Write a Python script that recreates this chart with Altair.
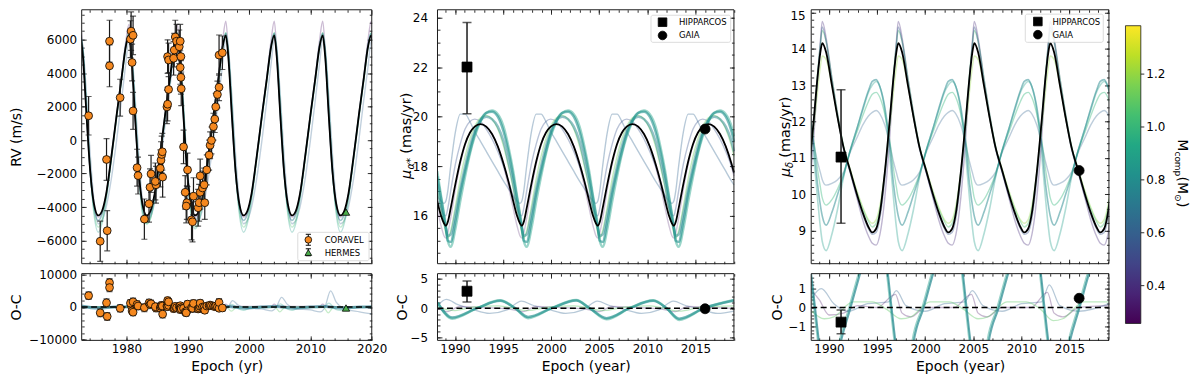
import altair as alt
import pandas as pd

FONT = "DejaVu Sans"
INK = "#1a1a1a"
ORANGE = "#f5881f"
HGREEN = "#4cae4c"
MASS_DOMAIN = [0.257, 1.383]
VIR = alt.Scale(scheme="viridis", domain=MASS_DOMAIN)
VIRIDIS_STOPS = [(0.0, "#440154"), (0.1, "#482475"), (0.2, "#414487"), (0.3, "#355f8d"),
                 (0.4, "#2a788e"), (0.5, "#21918c"), (0.6, "#22a884"), (0.7, "#44bf70"),
                 (0.8, "#7ad151"), (0.9, "#bddf26"), (1.0, "#fde725")]
cb_ticks = [0.4, 0.6, 0.8, 1.0, 1.2]
cb_labels = ["0.4", "0.6", "0.8", "1.0", "1.2"]
LABEL_SIZE = 12

# ---------------- Panel 1 : radial velocities ----------------
rv_year = [1973.83, 1975.72, 1976.75, 1976.86, 1977.24, 1977.24, 1978.97, 1980.76, 1980.65, 1981.08,
           1980.92, 1981.08, 1981.73, 1981.89, 1982.92, 1983.68, 1983.84, 1984.01, 1984.82, 1984.71,
           1985.52, 1985.63, 1985.74, 1985.85, 1985.90, 1986.60, 1986.71, 1986.87, 1986.71, 1986.87,
           1987.69, 1987.79, 1987.96, 1988.17, 1988.61, 1988.77, 1988.88, 1988.77, 1988.88, 1988.93,
           1989.31, 1989.96, 1989.58, 1989.85, 1989.74, 1990.61, 1990.77, 1990.93, 1991.69, 1991.85,
           1992.02, 1992.02, 1992.40, 1992.67, 1992.77, 1993.10, 1993.48, 1993.64, 1993.86, 1994.18,
           1994.40, 1994.56, 1994.83, 1995.10, 1995.10, 1995.64]
rv_val = [1450, -6040, -1160, -5410, 5900, 4430, 2530, 6500, 6020, 6250,
          4630, 1740, -1650, -2120, -4720, -3800, -2820, -2020, -2670, -2470,
          -1690, -1200, -860, -700, -2210, 1980, 2140, 3020, 4980, 4780,
          4880, 5370, 6150, 5900, 5570, 5900, 4980, 4330, 3740, 3060,
          -410, -1780, -3120, -3740, -3940, -4760, -4880, -3350, -4040, -3740,
          -3120, -2140, -2860, -2670, -3740, -1780, -900, -310, -20, 800,
          1250, 1980, 2720, 3150, 5070, 5210]
rv_err = [1150, 1200, 1250, 1200, 1250, 1250, 1100,
          1150, 1100, 1150, 1100, 1100, 1100, 1100,
          1200, 1100, 1100, 1100, 1100, 1100, 1100, 1100, 1100, 1100, 1200,
          1000, 1000, 1000, 1000, 1000, 1000, 1000, 1000, 1000, 1000, 1000, 1000, 1000, 1000, 1000,
          1000, 1000, 1000, 1000, 1000, 1200, 1200, 1100, 1100, 1100, 1000, 1000, 1000, 1000, 1000,
          900, 900, 800, 800, 800, 800, 800, 800, 800, 1200, 1000]
rv_oc = [3500, -1800, 1300, -2900, 7500, 6000, -400, 500, 1200, 1600,
         -1200, -1600, 800, 300, -200, 1300, 800, 1000, -300, 100,
         -300, 200, 500, 300, -2200, 300, 100, 500, 2000, 1600,
         -500, -300, 200, -200, 100, 400, -300, -800, -200, -600,
         -400, 900, -1500, -1200, -1800, -200, -400, 1100, -600, -300,
         200, 1200, 0, -100, -1000, 300, 400, 600, 400, 300,
         100, 300, 0, -400, 1400, -300]
hermes_year = [2015.8]
hermes_val = [-4300]
hermes_oc = [-300]

t1 = [1972.5, 1972.9, 1973.5, 1974.1, 1974.7,
      1975.4, 1976.0, 1976.7, 1977.5, 1978.4, 1979.2, 1979.9, 1980.4, 1980.8, 1981.4, 1982.0, 1982.6,
      1983.3, 1983.9, 1984.6, 1985.4, 1986.3, 1987.1, 1987.8, 1988.3, 1988.7, 1989.3, 1989.9, 1990.5,
      1991.2, 1991.8, 1992.5, 1993.3, 1994.2, 1995.0, 1995.7, 1996.2, 1996.6, 1997.2, 1997.8, 1998.4,
      1999.1, 1999.7, 2000.4, 2001.2, 2002.1, 2002.9, 2003.6, 2004.1, 2004.5, 2005.1, 2005.7, 2006.3,
      2007.0, 2007.6, 2008.3, 2009.1, 2010.0, 2010.8, 2011.5, 2012.0, 2012.4, 2013.0, 2013.6, 2014.2,
      2014.9, 2015.5, 2016.2, 2017.0, 2017.9, 2018.7, 2019.4, 2019.9, 2020.3]
rv_best = [6250, 5000, 1400, -1900, -3800,
           -4500, -4250, -3200, -1100, 1500, 3700, 5600, 6250, 5000, 1400, -1900, -3800,
           -4500, -4250, -3200, -1100, 1500, 3700, 5600, 6250, 5000, 1400, -1900, -3800,
           -4500, -4250, -3200, -1100, 1500, 3700, 5600, 6250, 5000, 1400, -1900, -3800,
           -4500, -4250, -3200, -1100, 1500, 3700, 5600, 6250, 5000, 1400, -1900, -3800,
           -4500, -4250, -3200, -1100, 1500, 3700, 5600, 6250, 5000, 1400, -1900, -3800,
           -4500, -4250, -3200, -1100, 1500, 3700, 5600, 6250, 5000]
rv_c1 = [7000, 5400, 1400, -2000, -3900,
         -4600, -4350, -3250, -1100, 1500, 3800, 5900, 6900, 5400, 1400, -2000, -3900,
         -4600, -4350, -3250, -1100, 1500, 3800, 5900, 6900, 5400, 1400, -2000, -3900,
         -4600, -4350, -3250, -1100, 1500, 3800, 6000, 7100, 5400, 1400, -2000, -3900,
         -4600, -4350, -3250, -1100, 1500, 3800, 6000, 7100, 5400, 1400, -2000, -3900,
         -4600, -4350, -3250, -1100, 1500, 3800, 6000, 7100, 5400, 1400, -2000, -3900,
         -4600, -4350, -3250, -1100, 1500, 3800, 6000, 7100, 5400]
rv_c2 = [6400, 5500, 2200, -1800, -4400,
         -5500, -5000, -3600, -1300, 1300, 3500, 5500, 6400, 5500, 2200, -1800, -4400,
         -5000, -4700, -3500, -1300, 1300, 3500, 5500, 6400, 5500, 2200, -1800, -4400,
         -5300, -4900, -3600, -1300, 1300, 3500, 5500, 6400, 5500, 2200, -1800, -4400,
         -5500, -5000, -3600, -1300, 1300, 3500, 5500, 6400, 5500, 2200, -1800, -4400,
         -5500, -5000, -3600, -1300, 1300, 3500, 5500, 6400, 5500, 2200, -1800, -4400,
         -5500, -5000, -3600, -1300, 1300, 3500, 5500, 6400, 5500]
rv_c3 = [6000, 5500, 2600, -900, -3600,
         -5000, -4800, -4000, -2400, 0, 2400, 4600, 6000, 5500, 2600, -900, -3600,
         -4800, -4600, -3700, -1800, 900, 3200, 5200, 6100, 5300, 2000, -1400, -3700,
         -5000, -4800, -4000, -2400, 0, 2400, 4600, 6000, 5500, 2600, -900, -3600,
         -5000, -4800, -4000, -2400, 0, 2400, 4600, 6000, 5500, 2600, -900, -3600,
         -5000, -4800, -4000, -2400, 0, 2400, 4600, 6000, 5500, 2600, -900, -3600,
         -5000, -4800, -4000, -2400, 0, 2400, 4400, 5900, 5600]
rv_c4 = [6400, 5200, 1700, -1900, -4200,
         -5200, -4800, -3400, -1200, 1400, 3600, 5600, 6400, 5200, 1700, -1900, -4200,
         -5000, -4700, -3400, -1200, 1400, 3600, 5600, 6400, 5200, 1700, -1900, -4200,
         -5200, -4800, -3400, -1200, 1400, 3600, 5600, 6400, 5200, 1700, -1900, -4200,
         -5200, -4800, -3400, -1200, 1400, 3600, 5600, 6400, 5200, 1700, -1900, -4200,
         -5200, -4800, -3400, -1200, 1400, 3600, 5600, 6400, 5200, 1700, -1900, -4200,
         -5200, -4800, -3400, -1200, 1400, 3600, 5600, 6400, 5200]
rv_c5 = [6350, 5100, 1500, -1900, -4000,
         -4800, -4450, -3300, -1100, 1500, 3700, 5700, 6350, 5100, 1500, -1900, -4000,
         -4800, -4450, -3300, -1100, 1500, 3700, 5700, 6350, 5100, 1500, -1900, -4000,
         -4800, -4450, -3300, -1100, 1500, 3700, 5700, 6350, 5100, 1500, -1900, -4000,
         -4800, -4450, -3300, -1100, 1500, 3700, 5700, 6350, 5100, 1500, -1900, -4000,
         -4800, -4450, -3300, -1100, 1500, 3700, 5700, 6350, 5100, 1500, -1900, -4000,
         -4800, -4450, -3300, -1100, 1500, 3700, 5700, 6350, 5100]

oc1_a_t = [1972.5, 1975.4, 1978.0, 1980.8, 1983.3, 1986.0, 1988.7, 1991.2, 1994.0, 1996.6, 1999.1,
           2002.0, 2004.5, 2007.0, 2010.0, 2012.4, 2014.9, 2018.0, 2020.3]
oc1_a_v = [300, -300, 0, 100, -250, 0, 100, -250, 0, 150, -300, 0, 150, -300, 0, 150, -300, 0, 100]
oc1_b_t = [1972.5, 1994.0, 1995.8, 1996.5, 1997.3, 1998.2, 1999.5, 2002.0, 2003.7, 2004.4, 2005.3,
           2006.2, 2007.5, 2010.0, 2011.6, 2012.3, 2013.3, 2014.2, 2015.5, 2018.0, 2020.3]
oc1_b_v = [0, 0, -800, -300, 2000, 600, -300, -600, -1200, -200, 3000, 900, -500, -900, -1500,
           -300, 5000, 1500, -500, -1500, -2200]
oc1_c_t = [1972.5, 1995.7, 1996.2, 1996.7, 2003.6, 2004.1, 2004.6, 2011.5, 2012.0, 2012.5, 2020.3]
oc1_c_v = [0, 200, 900, 200, 200, 900, 200, 200, 900, 200, 0]
oc1_d_t = [1972.5, 1996.3, 1997.1, 1998.0, 2004.2, 2005.0, 2005.9, 2012.1, 2012.9, 2013.8, 2020.3]
oc1_d_v = [0, 0, -1300, 0, 0, -1500, 0, 0, -1800, 0, 0]
oc1_e_t = [1972.5, 1996.4, 1997.2, 1998.3, 1999.1, 2000.2, 2004.3, 2005.1, 2006.2, 2007.0, 2008.1,
           2012.2, 2013.0, 2014.1, 2014.9, 2016.0, 2020.3]
oc1_e_v = [0, 0, 800, -600, -1000, -300, 0, 1000, -600, -1000, -300, 0, 1200, -700, -1000, -300, 0]

# ---------------- Panel 2 : mu_alpha* ----------------
hip_year = [1991.25]
gaia_year = [2016.0]
pma_hip, pma_hip_lo, pma_hip_hi = [22.0], [20.12], [23.8]
pma_gaia = [19.5]
pma_oc_hip, pma_oc_hip_lo, pma_oc_hip_hi = [2.9], [1.05], [4.65]
pma_oc_gaia = [-0.1]

t2 = [1988.15, 1988.55, 1988.85,
      1989.05, 1989.25, 1989.55, 1990.05, 1990.55, 1991.05, 1991.55, 1992.05, 1992.65, 1993.25, 1993.85, 1994.45, 1995.05, 1995.55, 1996.05, 1996.45, 1996.75,
      1996.95, 1997.15, 1997.45, 1997.95, 1998.45, 1998.95, 1999.45, 1999.95, 2000.55, 2001.15, 2001.75, 2002.35, 2002.95, 2003.45, 2003.95, 2004.35, 2004.65,
      2004.85, 2005.05, 2005.35, 2005.85, 2006.35, 2006.85, 2007.35, 2007.85, 2008.45, 2009.05, 2009.65, 2010.25, 2010.85, 2011.35, 2011.85, 2012.25, 2012.55,
      2012.75, 2012.95, 2013.25, 2013.75, 2014.25, 2014.75, 2015.25, 2015.75, 2016.35, 2016.95, 2017.55, 2018.15, 2018.75, 2019.0]
pma_best = [16.6, 16.0, 15.7,
            15.6, 15.75, 16.3, 17.3, 18.2, 18.9, 19.35, 19.6, 19.7, 19.6, 19.3, 18.8, 18.1, 17.4, 16.6, 16.0, 15.7,
            15.6, 15.75, 16.3, 17.3, 18.2, 18.9, 19.35, 19.6, 19.7, 19.6, 19.3, 18.8, 18.1, 17.4, 16.6, 16.0, 15.7,
            15.6, 15.75, 16.3, 17.3, 18.2, 18.9, 19.35, 19.6, 19.7, 19.6, 19.3, 18.8, 18.1, 17.4, 16.6, 16.0, 15.7,
            15.6, 15.75, 16.3, 17.3, 18.2, 18.9, 19.35, 19.6, 19.7, 19.6, 19.3, 18.8, 18.1, 17.75]
pma_teal1 = [17.6, 16.7, 16.0,
             15.5, 15.0, 14.95, 15.8, 16.9, 17.8, 18.6, 19.3, 19.85, 20.15, 20.2, 20.0, 19.4, 18.6, 17.6, 16.7, 16.0,
             15.5, 15.0, 14.95, 15.8, 16.9, 17.8, 18.6, 19.3, 19.85, 20.15, 20.2, 20.0, 19.4, 18.6, 17.6, 16.7, 16.0,
             15.5, 15.0, 14.95, 15.8, 16.9, 17.8, 18.6, 19.3, 19.85, 20.15, 20.2, 20.0, 19.4, 18.6, 17.6, 16.7, 16.0,
             15.5, 15.0, 14.95, 15.8, 16.9, 17.8, 18.6, 19.3, 19.85, 20.15, 20.2, 20.0, 19.4, 19.0]
pma_teal2 = [17.8, 16.8, 16.1,
             15.6, 15.0, 14.75, 15.5, 16.6, 17.6, 18.5, 19.2, 19.8, 20.15, 20.25, 20.1, 19.6, 18.8, 17.8, 16.8, 16.1,
             15.6, 15.0, 14.75, 15.5, 16.6, 17.6, 18.5, 19.2, 19.8, 20.15, 20.25, 20.1, 19.6, 18.8, 17.8, 16.8, 16.1,
             15.6, 15.0, 14.75, 15.5, 16.6, 17.6, 18.5, 19.2, 19.8, 20.15, 20.25, 20.1, 19.6, 18.8, 17.8, 16.8, 16.1,
             15.6, 15.0, 14.75, 15.5, 16.6, 17.6, 18.5, 19.2, 19.8, 20.15, 20.25, 20.1, 19.6, 19.2]
pma_teal3 = [17.3, 16.4, 15.8,
             15.5, 15.2, 15.25, 16.1, 17.1, 18.0, 18.8, 19.4, 19.85, 20.0, 19.9, 19.6, 19.0, 18.2, 17.3, 16.4, 15.8,
             15.5, 15.2, 15.25, 16.1, 17.1, 18.0, 18.8, 19.4, 19.85, 20.0, 19.9, 19.6, 19.0, 18.2, 17.3, 16.4, 15.8,
             15.5, 15.2, 15.25, 16.1, 17.1, 18.0, 18.8, 19.4, 19.85, 20.0, 19.9, 19.6, 19.0, 18.2, 17.3, 16.4, 15.8,
             15.5, 15.2, 15.25, 16.1, 17.1, 18.0, 18.8, 19.4, 19.85, 20.0, 19.9, 19.6, 19.0, 18.6]
pma_lblue = [16.8, 16.6, 16.5,
             16.6, 17.0, 18.0, 19.4, 20.1, 20.1, 19.8, 19.4, 19.0, 18.6, 18.2, 17.8, 17.4, 17.1, 16.8, 16.6, 16.5,
             16.6, 17.0, 18.0, 19.4, 20.1, 20.1, 19.8, 19.4, 19.0, 18.6, 18.2, 17.8, 17.4, 17.1, 16.8, 16.6, 16.5,
             16.6, 17.0, 18.0, 19.4, 20.1, 20.1, 19.8, 19.4, 19.0, 18.6, 18.2, 17.8, 17.4, 17.1, 16.8, 16.6, 16.5,
             16.6, 17.0, 18.0, 19.4, 20.1, 20.1, 19.8, 19.4, 19.0, 18.6, 18.2, 17.8, 17.4, 17.25]
pma_purple = [16.3, 15.6, 15.2,
              15.1, 15.3, 15.9, 17.1, 18.1, 18.85, 19.35, 19.6, 19.7, 19.6, 19.3, 18.8, 18.0, 17.2, 16.3, 15.6, 15.2,
              15.1, 15.3, 15.9, 17.1, 18.1, 18.85, 19.35, 19.6, 19.7, 19.6, 19.3, 18.8, 18.0, 17.2, 16.3, 15.6, 15.2,
              15.1, 15.3, 15.9, 17.1, 18.1, 18.85, 19.35, 19.6, 19.7, 19.6, 19.3, 18.8, 18.0, 17.2, 16.3, 15.6, 15.2,
              15.1, 15.3, 15.9, 17.1, 18.1, 18.85, 19.35, 19.6, 19.7, 19.6, 19.3, 18.8, 18.0, 17.6]
pma_blue = [16.8, 16.3, 16.05,
            16.0, 16.3, 17.0, 18.1, 18.9, 19.5, 19.8, 19.9, 19.8, 19.5, 19.1, 18.6, 18.0, 17.4, 16.8, 16.3, 16.05,
            16.0, 16.3, 17.0, 18.1, 18.9, 19.5, 19.8, 19.9, 19.8, 19.5, 19.1, 18.6, 18.0, 17.4, 16.8, 16.3, 16.05,
            16.0, 16.3, 17.0, 18.1, 18.9, 19.5, 19.8, 19.9, 19.8, 19.5, 19.1, 18.6, 18.0, 17.4, 16.8, 16.3, 16.05,
            16.0, 16.3, 17.0, 18.1, 18.9, 19.5, 19.8, 19.9, 19.8, 19.5, 19.1, 18.6, 18.0, 17.7]
pma_green = [17.1, 16.3, 15.7,
             15.3, 15.1, 15.4, 16.4, 17.5, 18.4, 19.1, 19.6, 19.95, 20.05, 19.9, 19.5, 18.8, 18.0, 17.1, 16.3, 15.7,
             15.3, 15.1, 15.4, 16.4, 17.5, 18.4, 19.1, 19.6, 19.95, 20.05, 19.9, 19.5, 18.8, 18.0, 17.1, 16.3, 15.7,
             15.3, 15.1, 15.4, 16.4, 17.5, 18.4, 19.1, 19.6, 19.95, 20.05, 19.9, 19.5, 18.8, 18.0, 17.1, 16.3, 15.7,
             15.3, 15.1, 15.4, 16.4, 17.5, 18.4, 19.1, 19.6, 19.95, 20.05, 19.9, 19.5, 18.8, 18.4]

oc2_teal_t = [1988.2, 1989.7, 1992.3, 1994.7, 1996.25, 1997.6, 2000.05, 2002.6, 2004.0, 2005.75,
              2008.15, 2010.6, 2012.0, 2013.3, 2015.9, 2019.0]
oc2_teal1_v = [0.9, -1.6, 0.0, 1.25, 0.0, -1.5, 0.0, 1.3, 0.0, -1.7, 0.0, 1.25, 0.0, -1.8, 0.0, 1.3]
oc2_teal2_v = [1.0, -1.8, 0.0, 1.35, 0.0, -1.7, 0.0, 1.4, 0.0, -1.9, 0.0, 1.35, 0.0, -2.0, 0.0, 1.4]
oc2_lblue_t = [1988.2, 1989.1, 1990.3, 1991.8, 1993.6, 1995.4, 1996.9, 1998.1, 1999.7, 2001.5, 2003.3,
               2004.8, 2006.0, 2007.6, 2009.4, 2011.2, 2012.7, 2013.9, 2015.5, 2017.3, 2019.0]
oc2_lblue_v = [0.5, 1.5, 0.6, -0.2, -0.9, -0.3, 1.2, 0.5, -0.2, -0.9, -0.3, 1.2, 0.5, -0.2, -0.9,
               -0.3, 1.2, 0.5, -0.2, -0.9, -0.5]
oc2_purple_t = [1988.2, 1989.2, 1990.5, 1993.0, 1995.5, 1997.1, 1998.4, 2001.0, 2003.4, 2005.0,
                2006.3, 2009.0, 2011.3, 2012.9, 2014.2, 2017.0, 2019.0]
oc2_purple_v = [0.0, -0.6, 0.3, 0.1, -0.1, -0.6, 0.3, 0.1, -0.1, -0.6, 0.3, 0.1, -0.1, -0.6, 0.3, 0.1, 0.0]
oc2_green_t = [1988.2, 1990.0, 1992.0, 1994.5, 1997.5, 1999.9, 2002.4, 2005.4, 2007.8, 2010.3,
               2013.3, 2015.7, 2019.0]
oc2_green_v = [0.2, -0.4, 0.2, 0.4, -0.4, 0.2, 0.4, -0.4, 0.2, 0.4, -0.5, 0.2, 0.4]

# ---------------- Panel 3 : mu_delta ----------------
pmd_hip, pmd_hip_lo, pmd_hip_hi = [11.02], [9.2], [12.87]
pmd_gaia = [10.65]
pmd_oc_hip, pmd_oc_hip_lo, pmd_oc_hip_hi = [-0.78], [-1.4], [-0.13]
pmd_oc_gaia = [0.49]

t3 = [1987.9, 1988.4, 1988.8, 1989.1,
      1989.3, 1989.7, 1990.3, 1990.9, 1991.5, 1992.2, 1992.9, 1993.5, 1994.1, 1994.5, 1994.9, 1995.3, 1995.8, 1996.3, 1996.7, 1997.0,
      1997.2, 1997.6, 1998.2, 1998.8, 1999.4, 2000.1, 2000.8, 2001.4, 2002.0, 2002.4, 2002.8, 2003.2, 2003.7, 2004.2, 2004.6, 2004.9,
      2005.1, 2005.5, 2006.1, 2006.7, 2007.3, 2008.0, 2008.7, 2009.3, 2009.9, 2010.3, 2010.7, 2011.1, 2011.6, 2012.1, 2012.5, 2012.8,
      2013.0, 2013.4, 2014.0, 2014.6, 2015.2, 2015.9, 2016.6, 2017.2, 2017.8, 2018.2, 2018.6, 2019.0, 2019.5]
pmd_best = [10.6, 12.0, 13.2, 13.9,
            14.15, 13.9, 13.0, 12.1, 11.3, 10.65, 10.0, 9.5, 9.1, 8.95, 9.05, 9.5, 10.6, 12.0, 13.2, 13.9,
            14.15, 13.9, 13.0, 12.1, 11.3, 10.65, 10.0, 9.5, 9.1, 8.95, 9.05, 9.5, 10.6, 12.0, 13.2, 13.9,
            14.15, 13.9, 13.0, 12.1, 11.3, 10.65, 10.0, 9.5, 9.1, 8.95, 9.05, 9.5, 10.6, 12.0, 13.2, 13.9,
            14.15, 13.9, 13.0, 12.1, 11.3, 10.65, 10.0, 9.5, 9.1, 8.95, 9.05, 9.5, 10.6]
pmd_v1 = [9.9, 11.5, 13.1, 14.2,
          14.75, 14.3, 13.2, 12.2, 11.3, 10.6, 9.9, 9.3, 8.85, 8.65, 8.6, 8.9, 9.9, 11.5, 13.1, 14.2,
          14.75, 14.3, 13.2, 12.2, 11.3, 10.6, 9.9, 9.3, 8.85, 8.65, 8.6, 8.9, 9.9, 11.5, 13.1, 14.2,
          14.75, 14.3, 13.2, 12.2, 11.3, 10.6, 9.9, 9.3, 8.85, 8.65, 8.6, 8.9, 9.9, 11.5, 13.1, 14.2,
          14.75, 14.3, 13.2, 12.2, 11.3, 10.6, 9.9, 9.3, 8.85, 8.65, 8.6, 8.9, 9.9]
pmd_v2 = [10.6, 12.0, 13.3, 14.1,
          14.5, 14.2, 13.2, 12.2, 11.35, 10.65, 10.05, 9.6, 9.25, 9.1, 9.2, 9.6, 10.6, 12.0, 13.3, 14.1,
          14.5, 14.2, 13.2, 12.2, 11.35, 10.65, 10.05, 9.6, 9.25, 9.1, 9.2, 9.6, 10.6, 12.0, 13.3, 14.1,
          14.5, 14.2, 13.2, 12.2, 11.35, 10.65, 10.05, 9.6, 9.25, 9.1, 9.2, 9.6, 10.6, 12.0, 13.3, 14.1,
          14.5, 14.2, 13.2, 12.2, 11.35, 10.65, 10.05, 9.6, 9.25, 9.1, 9.2, 9.6, 10.6]
pmd_v3 = [10.6, 11.8, 12.8, 13.5,
          13.8, 13.7, 13.0, 12.1, 11.3, 10.7, 10.1, 9.65, 9.3, 9.2, 9.3, 9.7, 10.6, 11.8, 12.8, 13.5,
          13.8, 13.7, 13.0, 12.1, 11.3, 10.7, 10.1, 9.65, 9.3, 9.2, 9.3, 9.7, 10.6, 11.8, 12.8, 13.5,
          13.8, 13.7, 13.0, 12.1, 11.3, 10.7, 10.1, 9.65, 9.3, 9.2, 9.3, 9.7, 10.6, 11.8, 12.8, 13.5,
          13.8, 13.7, 13.0, 12.1, 11.3, 10.7, 10.1, 9.65, 9.3, 9.2, 9.3, 9.7, 10.6]
pmd_v4 = [10.4, 11.9, 13.2, 14.1,
          14.6, 14.2, 13.1, 12.1, 11.25, 10.6, 9.95, 9.45, 9.05, 8.9, 8.95, 9.35, 10.4, 11.9, 13.2, 14.1,
          14.6, 14.2, 13.1, 12.1, 11.25, 10.6, 9.95, 9.45, 9.05, 8.9, 8.95, 9.35, 10.4, 11.9, 13.2, 14.1,
          14.6, 14.2, 13.1, 12.1, 11.25, 10.6, 9.95, 9.45, 9.05, 8.9, 8.95, 9.35, 10.4, 11.9, 13.2, 14.1,
          14.6, 14.2, 13.1, 12.1, 11.25, 10.6, 9.95, 9.45, 9.05, 8.9, 8.95, 9.35, 10.4]
pmd_a1 = [12.3, 11.1, 9.9, 9.1,
          8.7, 8.45, 8.9, 9.6, 10.45, 11.2, 11.8, 12.3, 12.8, 13.0, 13.1, 12.95, 12.3, 11.1, 9.9, 9.1,
          8.7, 8.45, 8.9, 9.6, 10.45, 11.2, 11.8, 12.3, 12.8, 13.0, 13.1, 12.95, 12.3, 11.1, 9.9, 9.1,
          8.7, 8.45, 8.9, 9.6, 10.45, 11.2, 11.8, 12.3, 12.8, 13.0, 13.1, 12.95, 12.3, 11.1, 9.9, 9.1,
          8.7, 8.45, 8.9, 9.6, 10.45, 11.2, 11.8, 12.3, 12.8, 13.0, 13.1, 12.95, 12.3]
pmd_a2 = [12.4, 11.4, 10.3, 9.7,
          9.4, 9.15, 9.5, 10.0, 10.5, 11.2, 11.8, 12.35, 12.85, 13.1, 13.15, 12.95, 12.4, 11.4, 10.3, 9.7,
          9.4, 9.15, 9.5, 10.0, 10.5, 11.2, 11.8, 12.35, 12.85, 13.1, 13.15, 12.95, 12.4, 11.4, 10.3, 9.7,
          9.4, 9.15, 9.5, 10.0, 10.5, 11.2, 11.8, 12.35, 12.85, 13.1, 13.15, 12.95, 12.4, 11.4, 10.3, 9.7,
          9.4, 9.15, 9.5, 10.0, 10.5, 11.2, 11.8, 12.35, 12.85, 13.1, 13.15, 12.95, 12.4]
pmd_a3 = [12.2, 11.5, 10.7, 10.2,
          9.9, 9.7, 9.85, 10.15, 10.55, 11.2, 11.7, 12.15, 12.55, 12.75, 12.8, 12.65, 12.2, 11.5, 10.7, 10.2,
          9.9, 9.7, 9.85, 10.15, 10.55, 11.2, 11.7, 12.15, 12.55, 12.75, 12.8, 12.65, 12.2, 11.5, 10.7, 10.2,
          9.9, 9.7, 9.85, 10.15, 10.55, 11.2, 11.7, 12.15, 12.55, 12.75, 12.8, 12.65, 12.2, 11.5, 10.7, 10.2,
          9.9, 9.7, 9.85, 10.15, 10.55, 11.2, 11.7, 12.15, 12.55, 12.75, 12.8, 12.65, 12.2]
pmd_a4 = [11.9, 11.4, 10.9, 10.6,
          10.4, 10.25, 10.3, 10.4, 10.6, 11.15, 11.55, 11.9, 12.15, 12.25, 12.3, 12.2, 11.9, 11.4, 10.9, 10.6,
          10.4, 10.25, 10.3, 10.4, 10.6, 11.15, 11.55, 11.9, 12.15, 12.25, 12.3, 12.2, 11.9, 11.4, 10.9, 10.6,
          10.4, 10.25, 10.3, 10.4, 10.6, 11.15, 11.55, 11.9, 12.15, 12.25, 12.3, 12.2, 11.9, 11.4, 10.9, 10.6,
          10.4, 10.25, 10.3, 10.4, 10.6, 11.15, 11.55, 11.9, 12.15, 12.25, 12.3, 12.2, 11.9]

oc3_alt1_t = [1987.95, 1988.45, 1988.95, 1990.0, 1991.0, 1992.1, 1993.2, 1994.5, 1995.9, 1996.4, 1996.9,
              1998.0, 1998.6, 1999.7, 2000.8, 2002.3, 2003.7, 2004.2, 2004.7, 2005.8, 2006.4, 2007.5,
              2008.6, 2010.2, 2011.8, 2012.3, 2012.8, 2013.8, 2014.8, 2015.9, 2017.0, 2018.5, 2019.5]
oc3_alt_v = [2.2, 0.0, -2.2, -5.0, -2.0, 0.0, 2.0, 4.0, 2.2, 0.0, -2.2, -5.0, -2.0, 0.0, 2.0, 4.0,
             2.2, 0.0, -2.2, -5.0, -2.0, 0.0, 2.0, 4.0, 2.2, 0.0, -2.2, -5.0, -2.0, 0.0, 2.0, 4.0, 3.0]
oc3_alt2_t = [1988.05, 1988.55, 1989.05, 1990.1, 1991.15, 1992.25, 1993.35, 1994.6, 1996.0, 1996.5, 1997.0,
              1998.1, 1998.75, 1999.85, 2000.95, 2002.4, 2003.8, 2004.3, 2004.8, 2005.9, 2006.55, 2007.65,
              2008.75, 2010.3, 2011.9, 2012.4, 2012.9, 2013.9, 2014.95, 2016.05, 2017.15, 2018.6, 2019.5]
oc3_w1_t = [1988.2, 1989.0, 1990.0, 1991.5, 1993.0, 1995.0, 1996.9, 1997.6, 1998.5, 2000.0, 2003.0,
            2004.8, 2005.5, 2006.4, 2008.0, 2011.0, 2012.7, 2013.4, 2014.3, 2016.0, 2019.1]
oc3_w1_v = [0.9, 0.4, -0.4, -0.3, 0.1, 0.0, 0.7, -0.3, -0.5, 0.0, 0.0, 0.7, -0.3, -0.5, 0.0, 0.0,
            0.8, -0.3, -0.5, 0.0, 0.1]
oc3_w2_t = [1988.2, 1989.5, 1990.5, 1992.5, 1994.5, 1996.0, 1997.5, 1998.5, 2000.5, 2002.5, 2004.0,
            2005.5, 2006.5, 2008.5, 2010.5, 2012.0, 2013.3, 2014.3, 2016.5, 2019.1]
oc3_w2_v = [-0.2, -0.6, -0.5, 0.3, 0.3, -0.1, -0.6, -0.5, 0.3, 0.3, -0.1, -0.6, -0.5, 0.3, 0.3,
            -0.1, -0.7, -0.6, 0.3, 0.3]
oc3_w3_t = [1988.2, 1989.2, 1990.5, 1992.0, 1994.0, 1996.2, 1997.0, 1998.0, 2000.0, 2002.0, 2004.1,
            2004.9, 2006.0, 2008.0, 2010.0, 2012.1, 2012.9, 2014.0, 2016.0, 2019.1]
oc3_w3_v = [0.5, 1.0, 0.2, -0.2, 0.2, 0.3, 0.9, 0.1, -0.2, 0.2, 0.3, 0.9, 0.1, -0.2, 0.2, 0.3, 1.2,
            0.1, -0.2, 0.2]

# ---------------- layout constants ----------------
H_MAIN, H_OC, GAP = 255, 67, 10
W1, W2, W3 = 291.3, 297.7, 299.0
GAP_A, GAP_B = 65.3, 76.7
W2V = W2 + (GAP_B - GAP_A)
CB_X0, CB_W = 16.6, 15.4
X1 = [1972.7, 2020.0]
X2 = [1988.18, 2019.0]
X3 = [1988.15, 2019.1]


def curves_df(t, curves):
    rows = []
    for name, (mass, op, w, vals) in curves.items():
        assert len(vals) == len(t), (name, len(vals), len(t))
        for ti, vi in zip(t, vals):
            rows.append(dict(t=ti, v=vi, c=name, m=mass, o=op, w=w))
    return pd.DataFrame(rows)


def curves_df2(curves):
    rows = []
    for name, (mass, op, w, t, vals) in curves.items():
        assert len(vals) == len(t), (name, len(vals), len(t))
        for ti, vi in zip(t, vals):
            rows.append(dict(t=ti, v=vi, c=name, m=mass, o=op, w=w))
    return pd.DataFrame(rows)


def sc(dom, width=None):
    if width is None:
        return alt.Scale(domain=dom, nice=False, zero=False)
    return alt.Scale(domain=dom, nice=False, zero=False, range=[0, width])


def frame_axes(xs, ys, W, WV, H, xmaj, xmin, ymaj, ymin, xlabels, xtitle, ytitle, yfmt,
               ylabpad, ytitlex=None, ylabvals=None):
    d = pd.DataFrame({"x": [xs.domain[0]], "y": [ys.domain[0]]})
    base = alt.Chart(d).mark_point(opacity=0)

    def inner(orient, values, size, offset):
        return alt.Axis(orient=orient, values=values, tickSize=size, offset=offset, labels=False,
                        domain=False, grid=False, title=None, ticks=True, tickColor=INK,
                        tickWidth=0.9)

    xkw = dict(orient="bottom", values=xmaj, labels=xlabels, ticks=False, domain=False,
               grid=False, format="d", labelPadding=3, title=xtitle, titlePadding=5,
               labelOverlap=False, labelFlush=False, labelBound=False)
    ykw = dict(orient="left", values=ylabvals if ylabvals is not None else ymaj, ticks=False,
               domain=False, grid=False, format=yfmt, labelPadding=ylabpad, title=ytitle,
               labelOverlap=False, labelFlush=False, labelBound=False)
    if ytitle is not None and ytitlex is not None:
        ykw.update(titleX=ytitlex, titleBaseline="middle", titleAngle=270)
    layers = [base.encode(x=alt.X("x:Q", scale=xs, axis=alt.Axis(**xkw)),
                          y=alt.Y("y:Q", scale=ys, axis=alt.Axis(**ykw)))]
    for (vals_x, vals_y, size) in [(xmaj, ymaj, 4.5), (xmin, ymin, 2.5)]:
        layers.append(base.encode(x=alt.X("x:Q", scale=xs, axis=inner("top", vals_x, size, -H)),
                                  y=alt.Y("y:Q", scale=ys, axis=inner("right", vals_y, size, -WV))))
        layers.append(base.encode(x=alt.X("x:Q", scale=xs, axis=inner("bottom", vals_x, size, -H)),
                                  y=alt.Y("y:Q", scale=ys, axis=inner("left", vals_y, size, -W))))
    return layers


ONE = pd.DataFrame({"a": [0]})


def frame_rect(W, H):
    return alt.Chart(ONE).mark_rect(fill="white", fillOpacity=0, stroke=INK, strokeWidth=1).encode(
        x=alt.value(0), x2=alt.value(W), y=alt.value(0), y2=alt.value(H))


def curve_layer(df, xs, ys):
    return alt.Chart(df).mark_line(interpolate="monotone", clip=True).encode(
        x=alt.X("t:Q", scale=xs, axis=None),
        y=alt.Y("v:Q", scale=ys, axis=None),
        detail="c:N",
        color=alt.Color("m:Q", scale=VIR, legend=None),
        opacity=alt.Opacity("o:Q", scale=None),
        strokeWidth=alt.StrokeWidth("w:Q", scale=None),
    )


def best_layer(t, v, xs, ys, width=1.8):
    df = pd.DataFrame({"t": t, "v": v})
    return alt.Chart(df).mark_line(interpolate="monotone", clip=True, color="black",
                                   strokeWidth=width).encode(
        x=alt.X("t:Q", scale=xs, axis=None), y=alt.Y("v:Q", scale=ys, axis=None))


def zero_layer(ys, W):
    df = pd.DataFrame({"y": [0.0]})
    return alt.Chart(df).mark_rule(color="black", strokeWidth=1.6, strokeDash=[6, 3.5]).encode(
        y=alt.Y("y:Q", scale=ys, axis=None), x=alt.value(0), x2=alt.value(W))


def errbar_layers(t, lo, hi, xs, ys, cap=6, width=1.2):
    df = pd.DataFrame({"t": t, "lo": lo, "hi": hi})
    caps = pd.DataFrame({"t": list(t) + list(t), "y": list(lo) + list(hi)})
    stem = alt.Chart(df).mark_rule(color=INK, strokeWidth=width, clip=True).encode(
        x=alt.X("t:Q", scale=xs, axis=None),
        y=alt.Y("lo:Q", scale=ys, axis=None), y2="hi:Q")
    tick = alt.Chart(caps).mark_tick(color=INK, orient="horizontal", size=cap, thickness=width,
                                     clip=True).encode(
        x=alt.X("t:Q", scale=xs, axis=None), y=alt.Y("y:Q", scale=ys, axis=None))
    return [stem, tick]


def point_layer(t, v, xs, ys, shape, fill, size, stroke="black", sw=0.8):
    df = pd.DataFrame({"t": t, "v": v})
    return alt.Chart(df).mark_point(shape=shape, filled=True, color=fill, stroke=stroke,
                                    strokeWidth=sw, size=size, opacity=1, clip=True).encode(
        x=alt.X("t:Q", scale=xs, axis=None), y=alt.Y("v:Q", scale=ys, axis=None))


def txt(text, x, y, size, angle=0, align="left", baseline="middle", style="normal"):
    return alt.Chart(ONE).mark_text(text=text, align=align, baseline=baseline, angle=angle,
                                    font=FONT, fontSize=size, fontStyle=style, color="black").encode(
        x=alt.value(x), y=alt.value(y))


def box(x0, y0, x1, y1):
    return alt.Chart(ONE).mark_rect(fill="white", stroke="#cccccc", strokeWidth=0.8,
                                    cornerRadius=2, opacity=0.85).encode(
        x=alt.value(x0), x2=alt.value(x1), y=alt.value(y0), y2=alt.value(y1))


def sym(x, y, shape, fill, size):
    return alt.Chart(ONE).mark_point(shape=shape, filled=True, color=fill, stroke="black",
                                     strokeWidth=0.8, size=size, opacity=1).encode(
        x=alt.value(x), y=alt.value(y))


def vseg(x, y0, y1, w=1.1):
    return alt.Chart(ONE).mark_rule(color=INK, strokeWidth=w).encode(
        x=alt.value(x), y=alt.value(y0), y2=alt.value(y1))


def hseg(x0, x1, y, w=1.1):
    return alt.Chart(ONE).mark_rule(color=INK, strokeWidth=w).encode(
        x=alt.value(x0), x2=alt.value(x1), y=alt.value(y))


def panel(layers, WV, H, indep_y=False):
    ch = alt.layer(*layers).resolve_axis(x="independent", y="independent")
    if indep_y:
        ch = ch.resolve_scale(y="independent")
    return ch.properties(width=WV, height=H)


# ================= Panel 1 =================
xs1 = sc(X1)
ys1 = sc([-7380, 7776])
ys1oc = sc([-10300, 10300])
rv_curves = curves_df(t1, {
    "c3": (0.62, 0.30, 1.4, rv_c3),
    "c1": (0.30, 0.28, 1.4, rv_c1),
    "c2": (0.88, 0.30, 1.4, rv_c2),
    "c4": (1.05, 0.32, 1.4, rv_c4),
    "c5": (0.72, 0.45, 1.6, rv_c5),
})
rv_lo = [v - e for v, e in zip(rv_val, rv_err)]
rv_hi = [v + e for v, e in zip(rv_val, rv_err)]
xmaj1 = [1980, 1990, 2000, 2010, 2020]
xmin1 = [1974 + 2 * i for i in range(23)]
main1 = panel(
    [curve_layer(rv_curves, xs1, ys1), best_layer(t1, rv_best, xs1, ys1)]
    + errbar_layers(rv_year, rv_lo, rv_hi, xs1, ys1)
    + [point_layer(rv_year, rv_val, xs1, ys1, "circle", ORANGE, 62),
       point_layer(hermes_year, hermes_val, xs1, ys1, "triangle-up", HGREEN, 55),
       box(217, 223.5, 288.6, 252),
       vseg(227.6, 225.5, 236.5), hseg(225, 230.2, 225.5), hseg(225, 230.2, 236.5),
       sym(227.6, 231, "circle", ORANGE, 45),
       vseg(227.6, 240, 247), hseg(225, 230.2, 240), hseg(225, 230.2, 247),
       sym(227.6, 243.8, "triangle-up", HGREEN, 45),
       txt("CORAVEL", 244, 231, 8.5), txt("HERMES", 244, 243.8, 8.5),
       frame_rect(W1, H_MAIN)]
    + frame_axes(xs1, ys1, W1, W1, H_MAIN, xmaj1, xmin1,
                 [-6000, -4000, -2000, 0, 2000, 4000, 6000],
                 [-7000 + 500 * i for i in range(30)], False, None, "RV (m/s)", "d", 5, -65.7),
    W1, H_MAIN)

oc1_curves = curves_df2({
    "b": (0.62, 0.32, 1.3, oc1_b_t, oc1_b_v),
    "c": (0.30, 0.30, 1.3, oc1_c_t, oc1_c_v),
    "e": (0.90, 0.30, 1.3, oc1_e_t, oc1_e_v),
    "d": (1.10, 0.35, 1.3, oc1_d_t, oc1_d_v),
    "a": (0.72, 0.65, 3.0, oc1_a_t, oc1_a_v),
})
oc_lo = [v - e for v, e in zip(rv_oc, rv_err)]
oc_hi = [v + e for v, e in zip(rv_oc, rv_err)]
oc1 = panel(
    [curve_layer(oc1_curves, xs1, ys1oc), zero_layer(ys1oc, W1)]
    + errbar_layers(rv_year, oc_lo, oc_hi, xs1, ys1oc)
    + [point_layer(rv_year, rv_oc, xs1, ys1oc, "circle", ORANGE, 62),
       point_layer(hermes_year, hermes_oc, xs1, ys1oc, "triangle-up", HGREEN, 55),
       frame_rect(W1, H_OC)]
    + frame_axes(xs1, ys1oc, W1, W1, H_OC, xmaj1, xmin1, [-10000, 0, 10000],
                 [-10000 + 2000 * i for i in range(11)], True, "Epoch (yr)", "O-C", "d", 5, -65.7),
    W1, H_OC)

# ================= Panel 2 =================
xs2 = sc(X2, W2)
ys2 = sc([14.07, 24.31])
ys2oc = sc([-5.5, 5.9])
pma_curves = curves_df(t2, {
    "lblue": (0.62, 0.35, 1.4, pma_lblue),
    "purple": (0.32, 0.25, 1.4, pma_purple),
    "blue": (0.55, 0.35, 1.4, pma_blue),
    "green": (1.12, 0.40, 1.4, pma_green),
    "teal3": (0.76, 0.50, 2.5, pma_teal3),
    "teal2": (0.90, 0.45, 2.5, pma_teal2),
    "teal1": (0.82, 0.60, 2.5, pma_teal1),
})
xmaj23 = [1990, 1995, 2000, 2005, 2010, 2015]
xmin23 = [1989 + i for i in range(31)]
main2 = panel(
    [curve_layer(pma_curves, xs2, ys2), best_layer(t2, pma_best, xs2, ys2)]
    + errbar_layers(hip_year, pma_hip_lo, pma_hip_hi, xs2, ys2, cap=9, width=1.5)
    + [point_layer(hip_year, pma_hip, xs2, ys2, "square", "black", 100),
       point_layer(gaia_year, pma_gaia, xs2, ys2, "circle", "black", 100),
       box(214.4, 5.5, 294.4, 32.7),
       sym(226, 12.5, "square", "black", 75), sym(226, 25.8, "circle", "black", 75),
       txt("HIPPARCOS", 242.5, 12.5, 8.5), txt("GAIA", 242.5, 25.8, 8.5),
       txt("μ", -27, 170.0, 14.5, angle=270, baseline="alphabetic", style="italic"),
       txt("α*", -24, 160.5, 10, angle=270, baseline="alphabetic", style="italic"),
       txt("(mas/yr)", -27, 144.5, 14.5, angle=270, baseline="alphabetic"),
       frame_rect(W2, H_MAIN)]
    + frame_axes(xs2, ys2, W2, W2V, H_MAIN, xmaj23, xmin23, [16, 18, 20, 22, 24],
                 [14.5 + 0.5 * i for i in range(20)], False, None, None, "d", 10),
    W2V, H_MAIN)

oc2_curves = curves_df2({
    "lblue": (0.62, 0.35, 1.3, oc2_lblue_t, oc2_lblue_v),
    "purple": (0.35, 0.30, 1.3, oc2_purple_t, oc2_purple_v),
    "green": (1.10, 0.40, 1.3, oc2_green_t, oc2_green_v),
    "teal2": (0.90, 0.45, 2.5, oc2_teal_t, oc2_teal2_v),
    "teal1": (0.82, 0.65, 2.5, oc2_teal_t, oc2_teal1_v),
})
oc2 = panel(
    [curve_layer(oc2_curves, xs2, ys2oc), zero_layer(ys2oc, W2)]
    + errbar_layers(hip_year, pma_oc_hip_lo, pma_oc_hip_hi, xs2, ys2oc, cap=9, width=1.5)
    + [point_layer(hip_year, pma_oc_hip, xs2, ys2oc, "square", "black", 100),
       point_layer(gaia_year, pma_oc_gaia, xs2, ys2oc, "circle", "black", 100),
       frame_rect(W2, H_OC)]
    + frame_axes(xs2, ys2oc, W2, W2V, H_OC, xmaj23, xmin23, [-5, 0, 5],
                 [-5 + i for i in range(11)], True, "Epoch (year)", "O-C", "d", 10, -35),
    W2V, H_OC)

# ================= Panel 3 (with colour bar) =================
xs3 = sc(X3)
ys3 = sc([8.09, 15.07])
ys3oc = sc([-1.75, 1.8])
cbs = sc([0.483, 1.4433])          # colour-bar scale: 1.383 -> 16 px, 0.257 -> 315 px
pmd_curves = curves_df(t3, {
    "a4": (0.62, 0.32, 1.4, pmd_a4),
    "a3": (1.00, 0.40, 1.4, pmd_a3),
    "a1": (0.88, 0.35, 1.6, pmd_a1),
    "a2": (0.78, 0.50, 1.6, pmd_a2),
    "v1": (0.40, 0.35, 1.4, pmd_v1),
    "v3": (1.20, 0.35, 1.4, pmd_v3),
    "v2": (1.05, 0.40, 1.4, pmd_v2),
    "v4": (0.55, 0.40, 1.4, pmd_v4),
})
grad = alt.LinearGradient(gradient="linear",
                          stops=[alt.GradientStop(color=c, offset=o) for o, c in VIRIDIS_STOPS],
                          x1=0, x2=0, y1=1, y2=0)
cb_df = pd.DataFrame({"lo": [MASS_DOMAIN[0]], "hi": [MASS_DOMAIN[1]]})
cb_tick_df = pd.DataFrame({"v": cb_ticks, "lab": cb_labels})
cbx0 = W3 + CB_X0
cbx1 = cbx0 + CB_W
cb_layers = [
    alt.Chart(cb_df).mark_rect(fill=grad, stroke=INK, strokeWidth=0.8).encode(
        y=alt.Y("hi:Q", scale=cbs, axis=None), y2="lo:Q",
        x=alt.value(cbx0), x2=alt.value(cbx1)),
    alt.Chart(cb_tick_df).mark_rule(color=INK, strokeWidth=0.9).encode(
        y=alt.Y("v:Q", scale=cbs, axis=None), x=alt.value(cbx1), x2=alt.value(cbx1 + 3.5)),
    alt.Chart(cb_tick_df).mark_text(align="left", baseline="middle", font=FONT,
                                    fontSize=LABEL_SIZE, color="black").encode(
        y=alt.Y("v:Q", scale=cbs, axis=None), x=alt.value(cbx1 + 5.5), text="lab:N"),
    txt("M", cbx0 + 52.7, 130, 14, angle=90, baseline="alphabetic"),
    txt("comp", cbx0 + 49.5, 142.3, 9, angle=90, baseline="alphabetic"),
    txt("(M", cbx0 + 52.7, 167.5, 14, angle=90, baseline="alphabetic"),
    txt("⊙", cbx0 + 49.5, 185.0, 9, angle=90, baseline="alphabetic"),
    txt(")", cbx0 + 52.7, 193.0, 14, angle=90, baseline="alphabetic"),
]
top_lab_df = pd.DataFrame({"v": [15], "lab": ["15"]})
top_label = alt.Chart(top_lab_df).mark_text(align="right", baseline="middle", dy=3.6,
                                            font=FONT, fontSize=LABEL_SIZE, color="black").encode(
    y=alt.Y("v:Q", scale=ys3, axis=None), x=alt.value(-5.5), text="lab:N")
main3 = panel(
    [curve_layer(pmd_curves, xs3, ys3), best_layer(t3, pmd_best, xs3, ys3)]
    + errbar_layers(hip_year, pmd_hip_lo, pmd_hip_hi, xs3, ys3, cap=9, width=1.5)
    + [point_layer(hip_year, pmd_hip, xs3, ys3, "square", "black", 100),
       point_layer(gaia_year, pmd_gaia, xs3, ys3, "circle", "black", 100),
       box(215, 4.4, 293.3, 32.7),
       sym(227.6, 11.8, "square", "black", 75), sym(227.6, 25, "circle", "black", 75),
       txt("HIPPARCOS", 242.3, 11.8, 8.5), txt("GAIA", 242.3, 25, 8.5),
       txt("μ", -21, 168.0, 14.5, angle=270, baseline="alphabetic", style="italic"),
       txt("δ", -18, 158.8, 10, angle=270, baseline="alphabetic", style="italic"),
       txt("(mas/yr)", -21, 148.5, 14.5, angle=270, baseline="alphabetic"),
       top_label,
       frame_rect(W3, H_MAIN)]
    + cb_layers
    + frame_axes(xs3, ys3, W3, W3, H_MAIN, xmaj23, xmin23, [9, 10, 11, 12, 13, 14, 15],
                 [8.2 + 0.2 * i for i in range(35)], False, None, None, "d", 5.5,
                 ylabvals=[9, 10, 11, 12, 13, 14]),
    W3, H_MAIN, indep_y=True)

oc3_curves = curves_df2({
    "w3": (0.62, 0.35, 1.3, oc3_w3_t, oc3_w3_v),
    "w1": (0.30, 0.30, 1.3, oc3_w1_t, oc3_w1_v),
    "w2": (1.10, 0.40, 1.3, oc3_w2_t, oc3_w2_v),
    "alt1": (0.88, 0.45, 2.0, oc3_alt1_t, oc3_alt_v),
    "alt2": (0.78, 0.70, 2.0, oc3_alt2_t, oc3_alt_v),
})
oc3 = panel(
    [curve_layer(oc3_curves, xs3, ys3oc), zero_layer(ys3oc, W3)]
    + errbar_layers(hip_year, pmd_oc_hip_lo, pmd_oc_hip_hi, xs3, ys3oc, cap=9, width=1.5)
    + [point_layer(hip_year, pmd_oc_hip, xs3, ys3oc, "square", "black", 100),
       point_layer(gaia_year, pmd_oc_gaia, xs3, ys3oc, "circle", "black", 100),
       frame_rect(W3, H_OC)]
    + frame_axes(xs3, ys3oc, W3, W3, H_OC, xmaj23, xmin23, [-1, 0, 1],
                 [-1.6 + 0.2 * i for i in range(17)], True, "Epoch (year)", "O-C", "d", 5.5, -34),
    W3, H_OC)

chart = alt.concat(
    main1, main2, main3, oc1, oc2, oc3,
    columns=3, spacing={"row": GAP, "column": GAP_A}, bounds="flush",
).properties(
    padding={"left": 0, "top": 0, "right": 2, "bottom": 0}, background="white"
).configure_view(
    stroke="transparent"
).configure_axis(
    labelFont=FONT, labelFontSize=LABEL_SIZE, labelColor="black",
    titleFont=FONT, titleFontSize=14, titleFontWeight="normal", titleColor="black"
)

chart.save("out.html", embed_options={"renderer": "svg", "actions": False})
